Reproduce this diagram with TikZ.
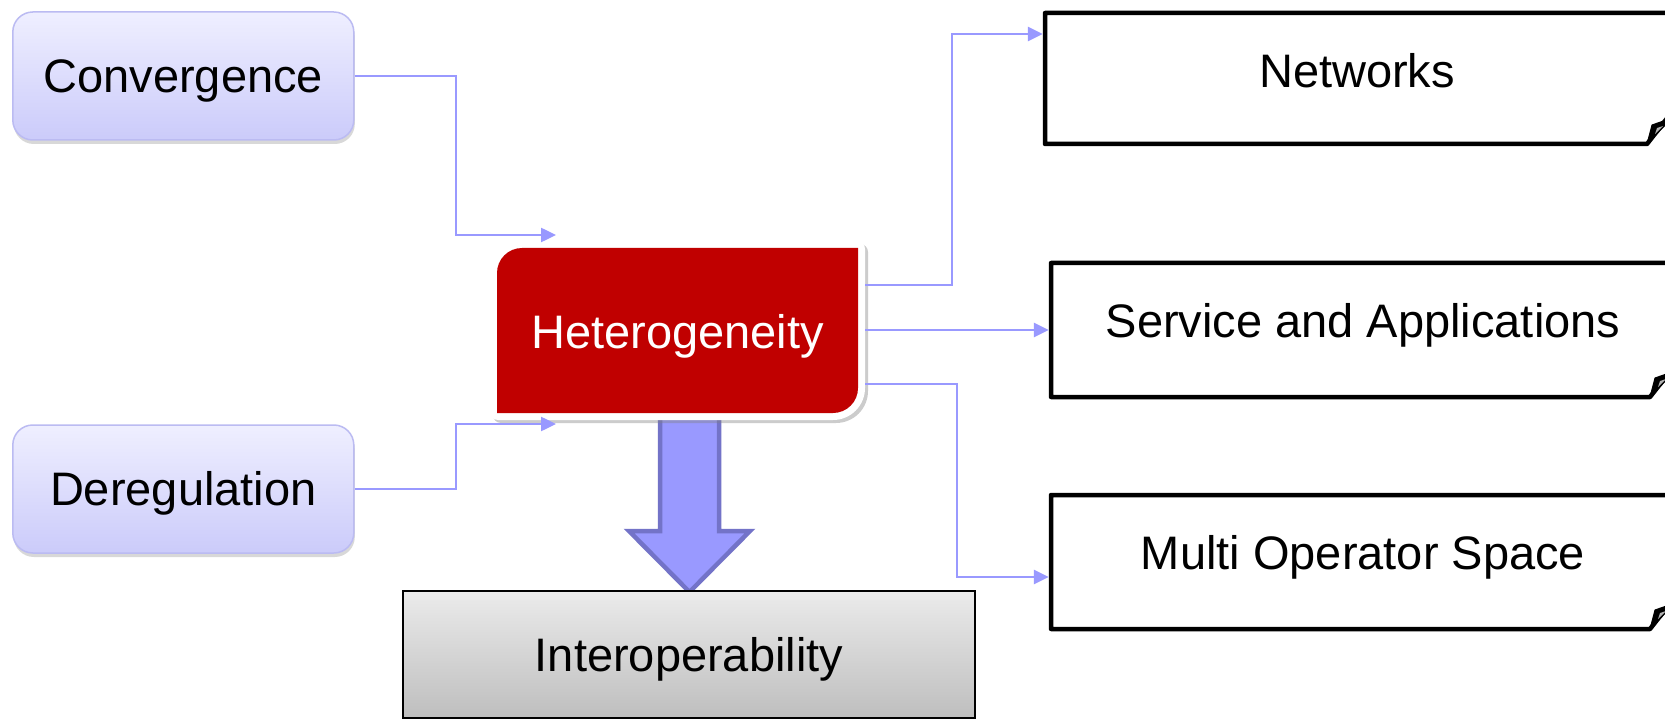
\documentclass[tikz,border=0pt]{standalone}
\usepackage{fontspec}
\setmainfont{Liberation Sans}
\usetikzlibrary{arrows.meta,shadows,calc}
\definecolor{connc}{HTML}{9999FF}
\definecolor{hred}{HTML}{C00000}
\definecolor{bafill}{HTML}{9999FF}
\definecolor{badraw}{HTML}{7373C8}
\definecolor{lbtop}{HTML}{EFEFFF}
\definecolor{lbbot}{HTML}{CBCBFA}
\definecolor{lbline}{HTML}{BBBBF2}
\definecolor{gtop}{HTML}{EBEBEB}
\definecolor{gbot}{HTML}{BEBEBE}
\begin{document}
\begin{tikzpicture}[x=1pt,y=-1pt,
  txt/.style={font=\fontsize{47}{56}\selectfont, text height=33.7pt, text depth=0pt, inner sep=0pt},
  leftbox/.style={txt, rounded corners=20pt, top color=lbtop, bottom color=lbbot, draw=lbline, line width=1.5pt,
     minimum width=341pt, minimum height=128pt,
     drop shadow={shadow xshift=1pt, shadow yshift=-4pt, opacity=0.3}},
  connline/.style={draw=connc, line width=2.5pt, -{Triangle[length=15pt,width=14pt]}},
  rbox/.style={draw=black, line width=4.5pt, line join=round},
  anchorbox/.style={txt, minimum width=624pt},
]
\useasboundingbox (0,0) rectangle (1665,719);
\fill[white] (0,0) rectangle (1665,719);

% left boxes
\node[leftbox] (conv) at (183.3,76) {Convergence};
\node[leftbox] (dereg) at (183.3,489) {Deregulation};

% big block arrow
\filldraw[fill=bafill, draw=badraw, line width=4.5pt, line join=miter]
  (660,412) -- (719,412) -- (719,531) -- (750,531) -- (689.5,592) -- (629,531) -- (660,531) -- cycle;

% heterogeneity frame and red box
\path[fill=white, drop shadow={shadow xshift=3pt, shadow yshift=-3pt, opacity=0.4}]
  (490,412) -- (490,273) arc[start angle=180,end angle=270,radius=32]
  -- (857,241) arc[start angle=270,end angle=360,radius=8]
  -- (865,388) arc[start angle=0,end angle=90,radius=32]
  -- (498,420) arc[start angle=90,end angle=180,radius=8] -- cycle;
\fill[hred] (497,413) -- (497,273) arc[start angle=180,end angle=270,radius=25]
  -- (858,248) -- (858,388) arc[start angle=0,end angle=90,radius=25] -- cycle;
\node[txt, text=white, minimum width=375pt] (het) at (677.5,332) {Heterogeneity};

% interoperability
\node[txt, top color=gtop, bottom color=gbot, draw=black, line width=2pt,
      minimum width=572pt, minimum height=127pt] (inter) at (689,654.5) {Interoperability};

% right boxes (outlines, clipped at right edge)
\draw[rbox] (1680,13) -- (1045,13) -- (1045,144) -- (1647,144) -- (1672,112);
\filldraw[black, line width=1pt, line join=round] (1647,144) -- (1652,125) -- (1672,118) -- cycle;
\fill[gray!60] (1655,134) -- (1657,128) -- (1663,126) -- cycle;
\node[anchorbox] (net) at (1357,71) {Networks};

\draw[rbox] (1680,263) -- (1051,263) -- (1051,397) -- (1650,397) -- (1675,365);
\filldraw[black, line width=1pt, line join=round] (1650,397) -- (1655,378) -- (1675,371) -- cycle;
\fill[gray!60] (1658,387) -- (1660,381) -- (1666,379) -- cycle;
\node[anchorbox] (serv) at (1363,321) {Service and Applications};

\draw[rbox] (1680,495) -- (1051,495) -- (1051,629) -- (1650,629) -- (1675,597);
\filldraw[black, line width=1pt, line join=round] (1650,629) -- (1655,610) -- (1675,603) -- cycle;
\fill[gray!60] (1658,619) -- (1660,613) -- (1666,611) -- cycle;
\node[anchorbox] (multi) at (1363,553) {Multi Operator Space};

% connectors
\coordinate (c1end) at (556,235);
\coordinate (d1end) at (556,424);
\draw[connline] (conv.east) -| ($(c1end)+(-100,0)$) -- (c1end);
\draw[connline] (dereg.east) -| ($(d1end)+(-100,0)$) -- (d1end);

\coordinate (netin) at ($(net.west |- 0,34)+(-2,0)$);
\coordinate (servin) at ($(serv.west |- 0,330)+(-2,0)$);
\coordinate (multin) at ($(multi.west |- 0,577)+(-2,0)$);
\draw[connline] (het.east |- 0,285) -| ($(netin)+(-91,0)$) -- (netin);
\draw[connline] (het.east |- servin) -- (servin);
\draw[connline] (het.east |- 0,384) -| ($(multin)+(-92,0)$) -- (multin);
\end{tikzpicture}
\end{document}
